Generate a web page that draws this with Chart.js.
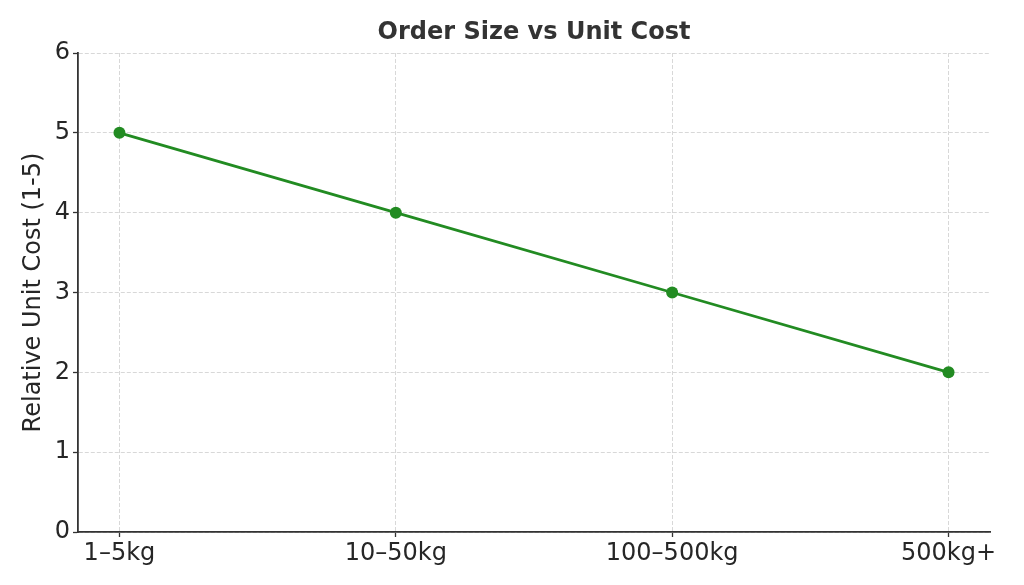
<!DOCTYPE html>
<html>
<head>
<meta charset="utf-8">
<script src="https://cdn.jsdelivr.net/npm/chart.js@4"></script>
<style>
  html, body { margin: 0; padding: 0; background: #fff; }
  #wrap { width: 1024px; height: 585px; }
</style>
</head>
<body>
<div id="wrap"><canvas id="cost-chart"></canvas></div>
<script>
// Chart data
const orderSizes = ["1–5kg", "10–50kg", "100–500kg", "500kg+"];
const unitCost = [5, 4, 3, 2];
const yTicks = [0, 1, 2, 3, 4, 5, 6];

const FONT = "'DejaVu Sans', sans-serif";
const AXIS = "#333333";
const GRID = "#d8d8d8";

// center the title over the plot area rather than the whole canvas
const titleOverPlot = {
  id: "titleOverPlot",
  afterLayout(chart) {
    if (chart.titleBlock) {
      chart.titleBlock.left = chart.chartArea.left;
      chart.titleBlock.right = chart.chartArea.right;
    }
  }
};

const ctx = document.getElementById("cost-chart").getContext("2d");
new Chart(ctx, {
  type: "line",
  data: {
    datasets: [{
      label: "Relative Unit Cost",
      data: unitCost.map((v, i) => ({ x: i, y: v })),
      borderColor: "#228B22",
      backgroundColor: "#228B22",
      borderWidth: 2.7,
      pointRadius: 6,
      pointHoverRadius: 6,
      pointBackgroundColor: "#228B22",
      pointBorderWidth: 0,
      tension: 0,
      fill: false
    }]
  },
  plugins: [titleOverPlot],
  options: {
    responsive: true,
    maintainAspectRatio: false,
    animation: false,
    layout: { padding: { left: 0, right: 34, top: 0, bottom: 0 } },
    plugins: {
      legend: { display: false },
      tooltip: { enabled: false },
      title: {
        display: true,
        text: "Order Size vs Unit Cost",
        color: AXIS,
        font: { family: FONT, size: 24, weight: "bold", lineHeight: 1.2 },
        padding: { top: 18.6, bottom: 5.6 }
      }
    },
    scales: {
      x: {
        type: "linear",
        min: -0.15,
        max: 3.15,
        afterBuildTicks: (axis) => { axis.ticks = orderSizes.map((_, i) => ({ value: i })); },
        afterFit: (axis) => { axis.height = 53; },
        border: { display: true, color: AXIS, width: 1.8, dash: [4, 2] },
        grid: {
          color: GRID,
          tickColor: AXIS,
          tickLength: 5,
          tickBorderDash: [],
          tickWidth: 1.3
        },
        ticks: {
          autoSkip: false,
          maxRotation: 0,
          padding: 2,
          color: "#262626",
          font: { family: FONT, size: 24 },
          callback: (v) => orderSizes[v]
        }
      },
      y: {
        min: 0,
        max: 6,
        afterBuildTicks: (axis) => { axis.ticks = yTicks.map(v => ({ value: v })); },
        afterFit: (axis) => { axis.width = 78; },
        border: { display: true, color: AXIS, width: 1.8, dash: [4, 2] },
        grid: {
          color: GRID,
          tickColor: AXIS,
          tickLength: 5,
          tickBorderDash: [],
          tickWidth: 1.3
        },
        ticks: {
          padding: 3,
          color: "#262626",
          font: { family: FONT, size: 24 }
        },
        title: {
          display: true,
          text: "Relative Unit Cost (1-5)",
          color: "#262626",
          font: { family: FONT, size: 24, lineHeight: 1.2 },
          padding: { top: 19.5, bottom: 0 }
        }
      }
    }
  }
});
</script>
</body>
</html>
